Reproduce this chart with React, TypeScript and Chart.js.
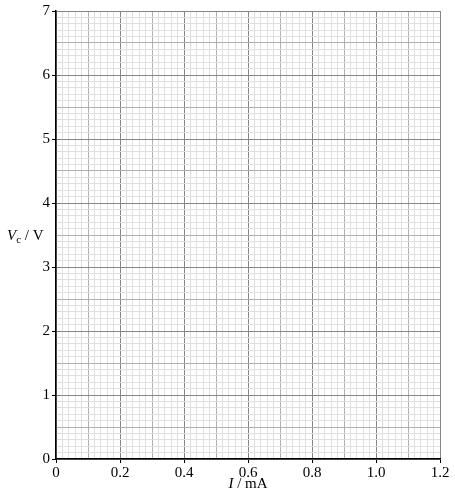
import { useEffect, useRef } from "react";
import { Chart, registerables } from "chart.js";

Chart.register(...registerables);

// axis ranges and grid spacing of the graph paper
const xRange = [0, 1.2];
const yRange = [0, 7];
const xMinorStep = 0.02;
const yMinorStep = 0.1;

// labelled (major) ticks
const xTickLabels = ["0", "0.2", "0.4", "0.6", "0.8", "1.0", "1.2"];
const yTickLabels = ["0", "1", "2", "3", "4", "5", "6", "7"];

// no measured points yet - the sheet is blank
const points: { x: number; y: number }[] = [];

const FONT = "'Liberation Serif', 'Times New Roman', serif";

const MAJOR = "#868686";
const MEDIUM = "#b0b0b0";
const MINOR = "#dfdfdf";

// x: count in hundredths, major every 0.2, medium every 0.1
function xLevel(v: number) {
  const n = Math.round(v * 100);
  if (n % 20 === 0) return 2;
  if (n % 10 === 0) return 1;
  return 0;
}

// y: count in tenths, major every 1, medium every 0.5
function yLevel(v: number) {
  const n = Math.round(v * 10);
  if (n % 10 === 0) return 2;
  if (n % 5 === 0) return 1;
  return 0;
}

const levelColor = [MINOR, MEDIUM, MAJOR];

const axisTitles = {
  id: "axisTitles",
  afterDraw(chart: Chart) {
    const { ctx, chartArea } = chart;
    ctx.save();
    ctx.fillStyle = "#000";
    ctx.textBaseline = "alphabetic";
    ctx.textAlign = "left";

    // y title: V_c / V
    let x = 7;
    const yBase = (chartArea.top + chartArea.bottom) / 2 + 5;
    ctx.font = `italic 15px ${FONT}`;
    ctx.fillText("V", x, yBase);
    x += ctx.measureText("V").width;
    ctx.font = `11px ${FONT}`;
    ctx.fillText("c", x, yBase + 3);
    x += ctx.measureText("c").width;
    ctx.font = `15px ${FONT}`;
    ctx.fillText(" / V", x, yBase);

    // x title: I / mA
    ctx.font = `italic 15px ${FONT}`;
    const wI = ctx.measureText("I").width;
    ctx.font = `15px ${FONT}`;
    const wRest = ctx.measureText(" / mA").width;
    let xs = (chartArea.left + chartArea.right) / 2 - (wI + wRest) / 2;
    const xBase = chartArea.bottom + 29;
    ctx.font = `italic 15px ${FONT}`;
    ctx.fillText("I", xs, xBase);
    xs += wI;
    ctx.font = `15px ${FONT}`;
    ctx.fillText(" / mA", xs, xBase);
    ctx.restore();
  },
};

export default function App() {
  const chartRef = useRef<HTMLCanvasElement>(null);
  const chartInstance = useRef<Chart | null>(null);

  useEffect(() => {
    document.body.style.margin = "0";
    if (!chartRef.current) return;

    if (chartInstance.current) {
      chartInstance.current.destroy();
    }

    const ctx = chartRef.current.getContext("2d");
    if (!ctx) return;

    chartInstance.current = new Chart(ctx, {
      type: "scatter",
      data: {
        datasets: [{ data: points, pointRadius: 3, backgroundColor: "#000" }],
      },
      options: {
        responsive: false,
        animation: false,
        events: [],
        layout: { padding: { left: 0, right: 15, top: 11, bottom: 0 } },
        plugins: {
          legend: { display: false },
          tooltip: { enabled: false },
        },
        scales: {
          x: {
            type: "linear",
            min: xRange[0],
            max: xRange[1],
            afterFit: (scale) => {
              scale.height = 41;
            },
            border: { color: "#000", width: 1.5, z: 1 },
            grid: {
              lineWidth: 1,
              color: (c) => levelColor[xLevel(c.tick.value)],
              tickColor: (c) => (xLevel(c.tick.value) === 2 ? "#000" : "rgba(0,0,0,0)"),
              tickLength: 4,
            },
            ticks: {
              stepSize: xMinorStep,
              autoSkip: false,
              maxRotation: 0,
              padding: 1,
              color: "#000",
              font: { family: FONT, size: 15 },
              callback: (v) => {
                const val = Number(v);
                if (xLevel(val) !== 2) return "";
                return xTickLabels[Math.round(val / 0.2)];
              },
            },
          },
          y: {
            type: "linear",
            min: yRange[0],
            max: yRange[1],
            afterFit: (scale) => {
              scale.width = 56;
            },
            border: { color: "#000", width: 1.5, z: 1 },
            grid: {
              lineWidth: 1,
              color: (c) => levelColor[yLevel(c.tick.value)],
              tickColor: (c) => (yLevel(c.tick.value) === 2 ? "#000" : "rgba(0,0,0,0)"),
              tickLength: 4,
            },
            ticks: {
              stepSize: yMinorStep,
              autoSkip: false,
              padding: 2,
              color: "#000",
              font: { family: FONT, size: 15 },
              callback: (v) => {
                const val = Number(v);
                if (yLevel(val) !== 2) return "";
                return yTickLabels[Math.round(val)];
              },
            },
          },
        },
      },
      plugins: [axisTitles],
    });

    return () => {
      if (chartInstance.current) {
        chartInstance.current.destroy();
        chartInstance.current = null;
      }
    };
  }, []);

  return (
    <div style={{ width: 455, height: 500, background: "#fff" }}>
      <canvas ref={chartRef} width={455} height={500} />
    </div>
  );
}
